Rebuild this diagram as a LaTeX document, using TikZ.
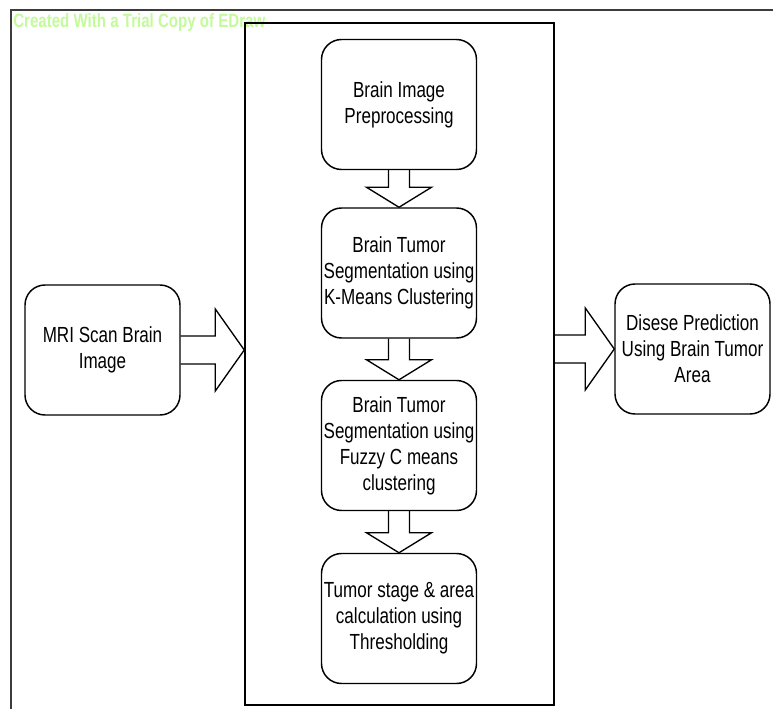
\documentclass[tikz,border=0pt]{standalone}
\usepackage{fontspec}
\setmainfont{Liberation Sans}[FakeStretch=0.78]
\usetikzlibrary{calc}
\definecolor{wm}{RGB}{195,250,155}
\definecolor{frame}{RGB}{60,60,60}
\tikzset{
  blk/.style={draw=black, line width=1.1pt, rounded corners=15pt, minimum width=116.25pt, minimum height=97.5pt, align=center, inner sep=0pt, font=\fontsize{16.4}{19.5}\selectfont},
  barrow/.style={draw=black, line width=1pt, line join=miter},
}
\begin{document}
\begin{tikzpicture}[x=0.75pt,y=-0.75pt]
\useasboundingbox (0,0) rectangle (773,709);
% outer frame (only top and left visible)
\draw[frame, line width=1.5pt] (11,709) -- (11,10) -- (773,10);
% watermark
\node[anchor=base west, inner sep=0pt, text=wm, font=\fontsize{14.5}{16}\selectfont\bfseries] (wmk) at (13,28) {Created With a Trial Copy of EDraw};
% inner panel
\node[draw=black, line width=1.1pt, minimum width=231.75pt, minimum height=511.5pt, inner sep=0pt] (panel) at (399.5,364) {};
% boxes
\node[blk] (mri) at (102.5,350) {MRI Scan Brain\\Image};
\node[blk] (pre) at (399,104.5) {Brain Image\\Preprocessing};
\node[blk] (km) at (399,273) {Brain Tumor\\Segmentation using\\K-Means Clustering};
\node[blk] (fcm) at (399,445.5) {Brain Tumor\\Segmentation using\\Fuzzy C means\\clustering};
\node[blk] (thr) at (399,618.5) {Tumor stage \& area\\calculation using\\Thresholding};
\node[blk] (dis) at (692.5,349) {Disese Prediction\\Using Brain Tumor\\Area};
% vertical block arrows
\foreach \a/\b in {pre/km, km/fcm, fcm/thr}{
  \draw[barrow] ($(\a.south)+(-10.5,0)$) -- ($(\b.north)+(-10.5,-20)$) -- ($(\b.north)+(-32.5,-20)$) -- (\b.north) -- ($(\b.north)+(32.5,-20)$) -- ($(\b.north)+(10.5,-20)$) -- ($(\a.south)+(10.5,0)$);
}
% horizontal block arrows
\coordinate (ltip) at (mri.east -| panel.west);
\draw[barrow] ($(mri.east)+(0,-14)$) -- ($(ltip)+(-29,-14)$) -- ($(ltip)+(-29,-41)$) -- (ltip) -- ($(ltip)+(-29,41)$) -- ($(ltip)+(-29,14)$) -- ($(mri.east)+(0,14)$);
\coordinate (rstart) at (dis.west -| panel.east);
\draw[barrow] ($(rstart)+(0,-14)$) -- ($(dis.west)+(-29,-14)$) -- ($(dis.west)+(-29,-41)$) -- (dis.west) -- ($(dis.west)+(-29,41)$) -- ($(dis.west)+(-29,14)$) -- ($(rstart)+(0,14)$);
\end{tikzpicture}
\end{document}
